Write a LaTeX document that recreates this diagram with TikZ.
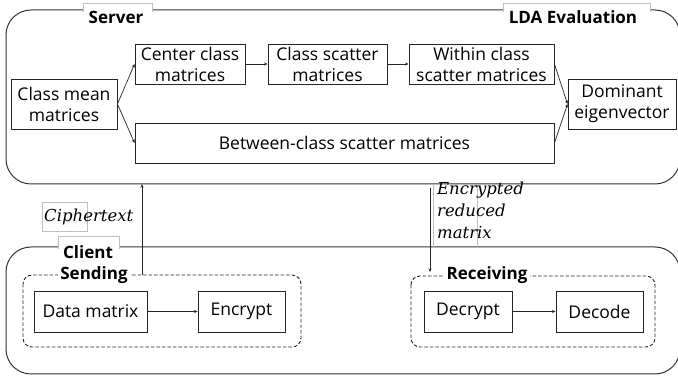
\documentclass[tikz,border=0pt]{standalone}
\usepackage{fontspec}
\setmainfont{Open Sans}
\newfontfamily\serifit{DejaVu Serif}
\usetikzlibrary{arrows.meta,positioning}
\tikzset{
  x=1pt,y=-1pt,
  line/.style={line width=0.9pt,draw=black!85},
  container/.style={line width=1pt,draw=black!80,rounded corners=25pt},
  group/.style={line width=0.9pt,draw=black!85,dashed,dash pattern=on 3.5pt off 2pt,rounded corners=9pt},
  box/.style={line width=0.9pt,draw=black!85,inner sep=0pt,align=center,font=\fontsize{17.5}{21}\selectfont},
  arr/.style={line width=0.7pt,draw=black!85,-{Stealth[length=3.5pt,width=3pt]}},
  tab/.style={draw=black!25,line width=0.6pt},
  title/.style={font=\fontsize{17}{20}\selectfont\bfseries,inner sep=1pt},
  cipher/.style={font=\fontsize{16.5}{22}\selectfont\serifit\itshape,inner sep=0pt,align=left},
}
\begin{document}
\begin{tikzpicture}
\useasboundingbox (0,0) rectangle (678,379);
\clip (0,0) rectangle (678,379);
% containers
\draw[container] (6,10) rectangle (680,184);
\node[inner sep=0pt,minimum width=674pt,minimum height=174pt] (server) at (343,97) {};
\draw[container] (6,247) rectangle (680,374);
\node[inner sep=0pt,minimum width=674pt,minimum height=127pt] (client) at (343,310.5) {};
% tabs
\fill[white] (83.5,3.5) rectangle (151.5,12);
\draw[tab] (83,12) -- (83,3) -- (152,3) -- (152,12);
\fill[white] (503.5,3.5) rectangle (649.5,12);
\draw[tab] (503,12) -- (503,3) -- (650,3) -- (650,12);
\fill[white] (58.5,236.5) rectangle (118.5,249);
\draw[tab] (58,249) -- (58,236) -- (119,236) -- (119,249);
\node[title] (servert) at (116,17) {Server};
\node[title] (ldat) at (573,17) {LDA Evaluation};
\node[title] (clientt) at (88,252) {Client};
% server nodes
\node[box,minimum width=106pt,minimum height=50pt] (mean) at (64,104) {Class mean\\matrices};
\node[box,minimum width=110pt,minimum height=40pt] (center) at (190,64) {Center class\\matrices};
\node[box,minimum width=119pt,minimum height=40pt] (scatter) at (327.5,64) {Class scatter\\matrices};
\node[box,minimum width=145pt,minimum height=40pt] (within) at (481.5,64) {Within class\\scatter matrices};
\node[box,minimum width=108pt,minimum height=50pt] (dom) at (622,104) {Dominant\\eigenvector};
\node[box,minimum width=419pt,minimum height=40pt] (between) at (344.5,143) {Between-class scatter matrices};
\draw[arr] (mean.east) -- (center.west);
\draw[arr] (mean.east) -- (between.west);
\draw[arr] (center) -- (scatter);
\draw[arr] (scatter) -- (within);
\draw[arr] (within.east) -- (dom.west);
\draw[arr] (between.east) -- (dom.west);
% client groups
\draw[group] (23,275) rectangle (301,347);
\node[inner sep=0pt,minimum width=278pt,minimum height=72pt] (sending) at (162,311) {};
\draw[group] (411,276) rectangle (655,347);
\node[inner sep=0pt,minimum width=244pt,minimum height=71pt] (receiving) at (533,311.5) {};
\node[title,fill=white,inner sep=2pt] (sendt) at (94,275) {Sending};
\node[title,fill=white,inner sep=3pt] (recvt) at (487,275) {Receiving};
\node[box,minimum width=113pt,minimum height=41pt] (data) at (90.5,311.5) {Data matrix};
\node[box,minimum width=87pt,minimum height=41pt] (enc) at (241.5,311.5) {Encrypt};
\node[box,minimum width=88pt,minimum height=41pt] (dec) at (468,311.5) {Decrypt};
\node[box,minimum width=87pt,minimum height=41pt] (decode) at (599.5,311.5) {Decode};
\draw[arr] (data) -- (enc);
\draw[arr] (dec) -- (decode);
% transfer arrows
\coordinate (cs) at (142,275);
\draw[arr] (cs) -- (cs |- server.south);
\coordinate (es) at (430,188);
\coordinate (ee) at (430,272);
\draw[arr] (es) -- (ee);
% labels
\draw[tab] (42,202) rectangle (87,231);
\node[cipher,anchor=west] (ctext) at (44,217) {Ciphertext};
\draw[tab] (433,184) -- (433,247);
\draw[tab] (477,184) -- (477,247);
\node[cipher,anchor=north west] (etext) at (437,182) {Encrypted\\reduced\\matrix};
\end{tikzpicture}
\end{document}
